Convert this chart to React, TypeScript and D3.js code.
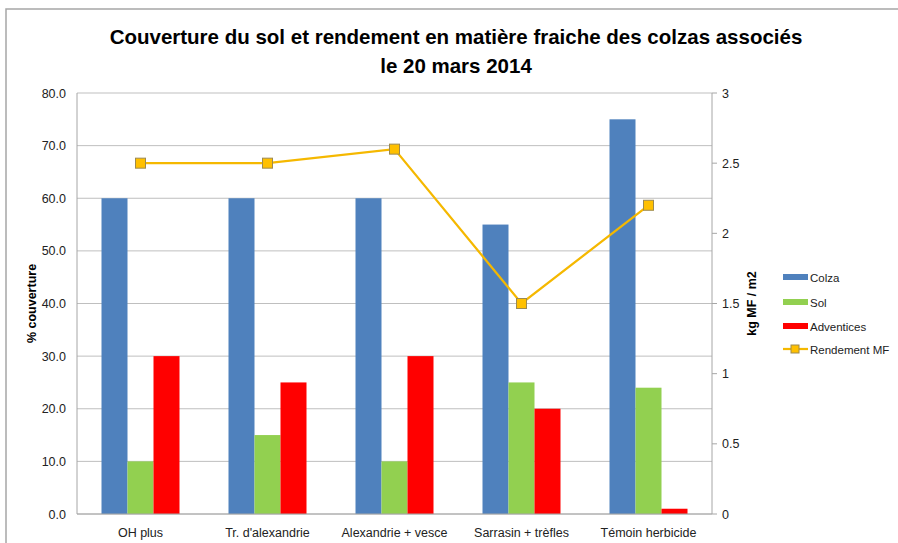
import * as d3 from 'd3';
import React from 'react';

const categories = ['OH plus', "Tr. d'alexandrie", 'Alexandrie + vesce', 'Sarrasin + trèfles', 'Témoin herbicide'];
const colza = [60, 60, 60, 55, 75];
const sol = [10, 15, 10, 25, 24];
const adventices = [30, 25, 30, 20, 1];
const rendement = [2.5, 2.5, 2.6, 1.5, 2.2];
const leftTicks = [0, 10, 20, 30, 40, 50, 60, 70, 80];
const rightTicks = [0, 0.5, 1, 1.5, 2, 2.5, 3];

const series = [
  { name: 'Colza', values: colza, color: '#4F81BD' },
  { name: 'Sol', values: sol, color: '#92D050' },
  { name: 'Adventices', values: adventices, color: '#FF0000' },
];

const W = 898;
const H = 543;
const font = "'Liberation Sans', Arial, sans-serif";
const plot = { left: 77, right: 712, top: 93, bottom: 514 };

export default function App() {
  const x = d3.scaleBand().domain(categories).range([plot.left, plot.right]);
  const groupW = 78;
  const xi = d3.scaleBand().domain(series.map(s => s.name)).range([0, groupW]);
  const yL = d3.scaleLinear().domain([0, 80]).range([plot.bottom, plot.top]);
  const yR = d3.scaleLinear().domain([0, 3]).range([plot.bottom, plot.top]);
  const cx = (c: string) => (x(c) || 0) + x.bandwidth() / 2;

  const line = d3.line<number>()
    .x((_, i) => cx(categories[i]))
    .y(d => yR(d));

  const legendY = [277, 302, 326, 349];
  const lineColor = '#F5B800';

  return (
    <svg width={W} height={H} style={{ position: 'absolute', left: 0, top: 0 }} fontFamily={font}>
      <rect x={0} y={0} width={W} height={H} fill="#fff" />
      <rect x={6} y={9} width={W + 10} height={H + 10} fill="none" stroke="#a6a6a6" strokeWidth={1.5} />

      <text x={456} y={44} textAnchor="middle" fontSize={20.5} fontWeight="bold" fill="#000">
        Couverture du sol et rendement en matière fraiche des colzas associés
      </text>
      <text x={456} y={73} textAnchor="middle" fontSize={20.5} fontWeight="bold" fill="#000">
        le 20 mars 2014
      </text>

      {leftTicks.map(t => (
        <g key={t}>
          <line x1={plot.left} x2={plot.right} y1={yL(t)} y2={yL(t)} stroke="#bfbfbf" strokeWidth={1} />
          <text x={66} y={yL(t) + 4.5} textAnchor="end" fontSize={12.5} fill="#222">{t.toFixed(1)}</text>
        </g>
      ))}
      <line x1={plot.left} x2={plot.left} y1={plot.top} y2={plot.bottom} stroke="#a6a6a6" />
      <line x1={plot.right} x2={plot.right} y1={plot.top} y2={plot.bottom} stroke="#a6a6a6" />
      {rightTicks.map(t => (
        <g key={t}>
          <line x1={plot.right} x2={plot.right + 5} y1={yR(t)} y2={yR(t)} stroke="#a6a6a6" />
          <text x={722} y={yR(t) + 4.5} textAnchor="start" fontSize={12.5} fill="#222">{String(t)}</text>
        </g>
      ))}

      {categories.map((c, i) => (
        <g key={c} transform={`translate(${cx(c) - groupW / 2},0)`}>
          {series.map(s => (
            <rect key={s.name} x={xi(s.name)} y={yL(s.values[i])} width={xi.bandwidth()}
              height={plot.bottom - yL(s.values[i])} fill={s.color} />
          ))}
        </g>
      ))}
      <line x1={plot.left} x2={plot.right} y1={plot.bottom} y2={plot.bottom} stroke="#a6a6a6" />

      <path d={line(rendement) || ''} fill="none" stroke={lineColor} strokeWidth={2.25} />
      {rendement.map((v, i) => (
        <rect key={i} x={cx(categories[i]) - 5} y={yR(v) - 5} width={10} height={10}
          fill="#FFC000" stroke="#9c8a50" strokeWidth={1} />
      ))}

      {categories.map(c => (
        <text key={c} x={cx(c)} y={537} textAnchor="middle" fontSize={12.5} fill="#222">{c}</text>
      ))}

      <text transform={`translate(36,${(plot.top + plot.bottom) / 2}) rotate(-90)`} textAnchor="middle"
        fontSize={12.5} fontWeight="bold" fill="#000">% couverture</text>
      <text transform={`translate(756,${(plot.top + plot.bottom) / 2}) rotate(-90)`} textAnchor="middle"
        fontSize={12.5} fontWeight="bold" fill="#000">kg MF / m2</text>

      {series.map((s, i) => (
        <g key={s.name}>
          <rect x={783} y={legendY[i] - 3} width={25} height={6} fill={s.color} />
          <text x={810} y={legendY[i] + 4.5} fontSize={11.5} fill="#222">{s.name}</text>
        </g>
      ))}
      <line x1={783} x2={808} y1={legendY[3]} y2={legendY[3]} stroke={lineColor} strokeWidth={2.25} />
      <rect x={791} y={legendY[3] - 4} width={8} height={8} fill="#FFC000" stroke="#9c8a50" />
      <text x={810} y={legendY[3] + 4.5} fontSize={11.5} fill="#222">Rendement MF</text>
    </svg>
  );
}
